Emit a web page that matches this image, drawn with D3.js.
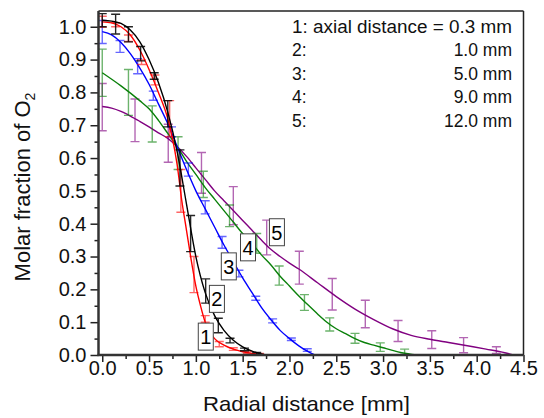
<!DOCTYPE html>
<html>
<head>
<meta charset="utf-8">
<script src="https://cdn.jsdelivr.net/npm/d3@7"></script>
<style>
  body{margin:0;background:#fff;}
  text{font-family:"Liberation Sans",Arial,sans-serif;}
</style>
</head>
<body>
<svg id="chart" width="544" height="418"></svg>
<script>
// error-bar points: [radial distance, mean, error]
const bars1 = [[0,1.015,0.017],[0.143,1.006,0.006],[0.28,0.965,0.01],[0.42,0.892,0.007],[0.563,0.838,0.015],[0.72,0.72,0.055],[0.84,0.50,0.065],[0.98,0.245,0.055],[1.10,0.11,0.01],[1.25,0.033,0.008],[1.40,0.018,0.004],[1.55,0.008,0.003],[1.68,0.003,0.002]];
const bars2 = [[0,1.02,0.02],[0.143,1.008,0.03],[0.28,0.977,0.023],[0.41,0.918,0.022],[0.555,0.85,0.01],[0.70,0.735,0.04],[0.83,0.57,0.055],[0.944,0.37,0.055],[1.105,0.195,0.037],[1.24,0.09,0.022],[1.365,0.044,0.007],[1.52,0.017,0.004],[1.65,0.005,0.003]];
const bars3 = [[0,0.984,0.035],[0.19,0.94,0.018],[0.378,0.88,0.023],[0.545,0.79,0.014],[0.74,0.68,0.015],[0.92,0.565,0.02],[1.10,0.45,0.02],[1.28,0.343,0.018],[1.46,0.248,0.01],[1.64,0.173,0.006],[1.82,0.104,0.006],[2.02,0.048,0.004],[2.19,0.015,0.004]];
const bars4 = [[0,0.86,0.072],[0.28,0.80,0.07],[0.534,0.704,0.055],[0.81,0.615,0.05],[1.08,0.52,0.04],[1.36,0.424,0.033],[1.65,0.34,0.03],[1.89,0.242,0.029],[2.16,0.16,0.024],[2.43,0.093,0.02],[2.70,0.051,0.015],[2.97,0.024,0.013],[3.23,0.01,0.008]];
const bars5 = [[0,0.755,0.072],[0.35,0.715,0.065],[0.705,0.645,0.058],[1.06,0.555,0.062],[1.40,0.455,0.058],[1.757,0.358,0.053],[2.105,0.266,0.05],[2.457,0.185,0.048],[2.81,0.125,0.042],[3.16,0.073,0.032],[3.52,0.047,0.027],[3.86,0.03,0.023],[4.21,0.015,0.01]];

// fitted curves: [radial distance, molar fraction]
const fit1 = [[0,1.015],[0.1,1.012],[0.2,1.0],[0.3,0.975],[0.4,0.93],[0.5,0.87],[0.6,0.80],[0.7,0.72],[0.75,0.66],[0.8,0.58],[0.85,0.47],[0.9,0.38],[0.95,0.29],[1.0,0.21],[1.05,0.15],[1.1,0.10],[1.15,0.07],[1.2,0.05],[1.3,0.03],[1.4,0.018],[1.5,0.01],[1.6,0.005],[1.7,0.002],[1.78,0]];
const fit2 = [[0,1.02],[0.1,1.017],[0.2,1.01],[0.3,0.99],[0.4,0.955],[0.5,0.90],[0.6,0.83],[0.7,0.74],[0.8,0.62],[0.9,0.46],[1.0,0.30],[1.1,0.19],[1.2,0.12],[1.3,0.075],[1.4,0.045],[1.5,0.025],[1.6,0.012],[1.7,0.003],[1.75,0]];
const fit3 = [[0,0.985],[0.1,0.975],[0.2,0.952],[0.3,0.918],[0.4,0.875],[0.5,0.825],[0.6,0.765],[0.7,0.705],[0.8,0.635],[0.9,0.565],[1.0,0.50],[1.1,0.445],[1.2,0.39],[1.3,0.335],[1.4,0.285],[1.5,0.235],[1.6,0.19],[1.7,0.145],[1.8,0.108],[1.9,0.075],[2.0,0.05],[2.1,0.028],[2.2,0.01],[2.27,0]];
const fit4 = [[0,0.86],[0.2,0.82],[0.4,0.775],[0.5,0.75],[0.6,0.715],[0.7,0.675],[0.8,0.635],[0.9,0.59],[1.0,0.55],[1.1,0.51],[1.2,0.475],[1.3,0.44],[1.4,0.405],[1.5,0.37],[1.6,0.34],[1.7,0.305],[1.8,0.275],[1.9,0.24],[2.0,0.21],[2.1,0.18],[2.2,0.152],[2.3,0.125],[2.4,0.10],[2.5,0.08],[2.6,0.065],[2.7,0.05],[2.8,0.038],[2.9,0.03],[3.0,0.022],[3.1,0.014],[3.2,0.007],[3.36,0]];
const fit5 = [[0,0.757],[0.1,0.752],[0.2,0.742],[0.3,0.728],[0.4,0.712],[0.5,0.695],[0.6,0.677],[0.7,0.66],[0.8,0.635],[0.9,0.605],[1.0,0.57],[1.1,0.535],[1.2,0.5],[1.3,0.47],[1.4,0.44],[1.5,0.41],[1.6,0.38],[1.7,0.35],[1.8,0.322],[1.9,0.3],[2.0,0.28],[2.1,0.262],[2.3,0.22],[2.5,0.178],[2.7,0.14],[2.9,0.108],[3.1,0.08],[3.3,0.06],[3.5,0.048],[3.7,0.038],[3.9,0.028],[4.1,0.018],[4.3,0.007],[4.39,0]];

const seriesNames = ["1","2","3","4","5"];
const seriesColors = ["#ff0000","#000000","#0000ff","#0a800a","#800080"];
const labelPos = [[1.106,0.056],[1.225,0.171],[1.352,0.27],[1.557,0.328],[1.866,0.374]];
const legendLeft = ["1: axial distance = 0.3 mm","2:","3:","4:","5:"];
const legendRight = ["","1.0 mm","5.0 mm","9.0 mm","12.0 mm"];
const xTicks = [0,0.5,1,1.5,2,2.5,3,3.5,4,4.5];
const yTicks = [0,0.1,0.2,0.3,0.4,0.5,0.6,0.7,0.8,0.9,1.0];

const svg = d3.select('#chart');
const L=98.5, R=523.5, T=11, B=355;
const x = d3.scaleLinear().domain([-0.04,4.5]).range([L,R]);
const y = d3.scaleLinear().domain([0,1.048]).range([B,T]);

svg.append('defs').append('clipPath').attr('id','clip')
  .append('rect').attr('x',L).attr('y',T).attr('width',R-L).attr('height',B-T);

const allBars=[bars1,bars2,bars3,bars4,bars5];
const allFits=[fit1,fit2,fit3,fit4,fit5];
const plot = svg.append('g').attr('clip-path','url(#clip)');
const line = d3.line().x(d=>x(d[0])).y(d=>y(d[1])).curve(d3.curveMonotoneX);

// draw 5 first so that 1 and 2 end up on top
[4,3,2,0,1].forEach(i=>{
  const g = plot.append('g');
  const c = seriesColors[i];
  g.selectAll('path.eb').data(allBars[i]).enter().append('path')
    .attr('class','eb')
    .attr('d',d=>{
      const xx=x(d[0]), y1=y(d[1]+d[2]), y2=y(d[1]-d[2]);
      return `M${xx-4.5},${y1}H${xx+4.5}M${xx},${y1}V${y2}M${xx-4.5},${y2}H${xx+4.5}`;
    })
    .attr('stroke',c).attr('stroke-opacity',i===1?0.85:0.6).attr('stroke-width',1.4).attr('fill','none');
  g.append('path').datum(allFits[i]).attr('d',line)
    .attr('fill','none').attr('stroke',c).attr('stroke-width',1.4);
});

// number labels in boxes
seriesNames.forEach((n,i)=>{
  const cx=x(labelPos[i][0]), cy=y(labelPos[i][1]);
  svg.append('rect').attr('x',cx-7.5).attr('y',cy-13.5).attr('width',15).attr('height',27)
    .attr('fill','#fff').attr('stroke','#444').attr('stroke-width',1);
  svg.append('text').attr('x',cx).attr('y',cy+7.5).attr('text-anchor','middle')
    .attr('font-size',20).text(n);
});

// axes
const xAxis = d3.axisBottom(x).tickValues(xTicks).tickSize(7).tickPadding(-1).tickFormat(d3.format('.1f'));
const xMinor = d3.axisBottom(x).tickValues(d3.range(0.25,4.5,0.5)).tickSize(4).tickFormat('');
const yAxis = d3.axisLeft(y).tickValues(yTicks).tickSize(8).tickPadding(4).tickFormat(d3.format('.1f'));
const yMinor = d3.axisLeft(y).tickValues(d3.range(0.05,1.05,0.1)).tickSize(4).tickFormat('');

function styleAxis(g){
  g.select('.domain').remove();
  g.selectAll('line').attr('stroke','#222').attr('stroke-width',1.5);
  g.selectAll('text').attr('font-size',20).attr('fill','#111').attr('font-family','"Liberation Sans",Arial,sans-serif');
}
svg.append('g').attr('transform',`translate(0,${B})`).call(xAxis).call(styleAxis);
svg.append('g').attr('transform',`translate(0,${B})`).call(xMinor).call(styleAxis);
svg.append('g').attr('transform',`translate(${L},0)`).call(yAxis).call(styleAxis);
svg.append('g').attr('transform',`translate(${L},0)`).call(yMinor).call(styleAxis);

// frame
svg.append('line').attr('x1',L).attr('x2',R).attr('y1',T).attr('y2',T).attr('stroke','#222').attr('stroke-width',1.5);
svg.append('line').attr('x1',R).attr('x2',R).attr('y1',T).attr('y2',B).attr('stroke','#222').attr('stroke-width',1.5);
svg.append('line').attr('x1',L).attr('x2',L).attr('y1',T).attr('y2',B+1).attr('stroke','#333').attr('stroke-width',2.5);
svg.append('line').attr('x1',L-1).attr('x2',R).attr('y1',B).attr('y2',B).attr('stroke','#333').attr('stroke-width',2.5);

// titles
svg.append('text').attr('x',203).attr('y',411).attr('textLength',207).attr('lengthAdjust','spacingAndGlyphs')
  .attr('font-size',21).attr('fill','#111').text('Radial distance [mm]');
const yt = svg.append('text').attr('transform',`translate(30,${(T+B)/2+4}) rotate(-90)`)
  .attr('text-anchor','middle').attr('font-size',22).attr('fill','#111');
yt.append('tspan').text('Molar fraction of O');
yt.append('tspan').attr('dy',5).attr('font-size',14).text('2');

// legend text
legendLeft.forEach((t,i)=>{
  const tx = svg.append('text').attr('x',292).attr('y',33+i*23.4).attr('font-size',17.5).attr('fill','#111').text(t);
  if(i===0) tx.attr('textLength',220).attr('lengthAdjust','spacingAndGlyphs');
  if(legendRight[i]) svg.append('text').attr('x',512).attr('y',33+i*23.4).attr('text-anchor','end')
    .attr('font-size',17.5).attr('fill','#111').text(legendRight[i]);
});
</script>
</body>
</html>
